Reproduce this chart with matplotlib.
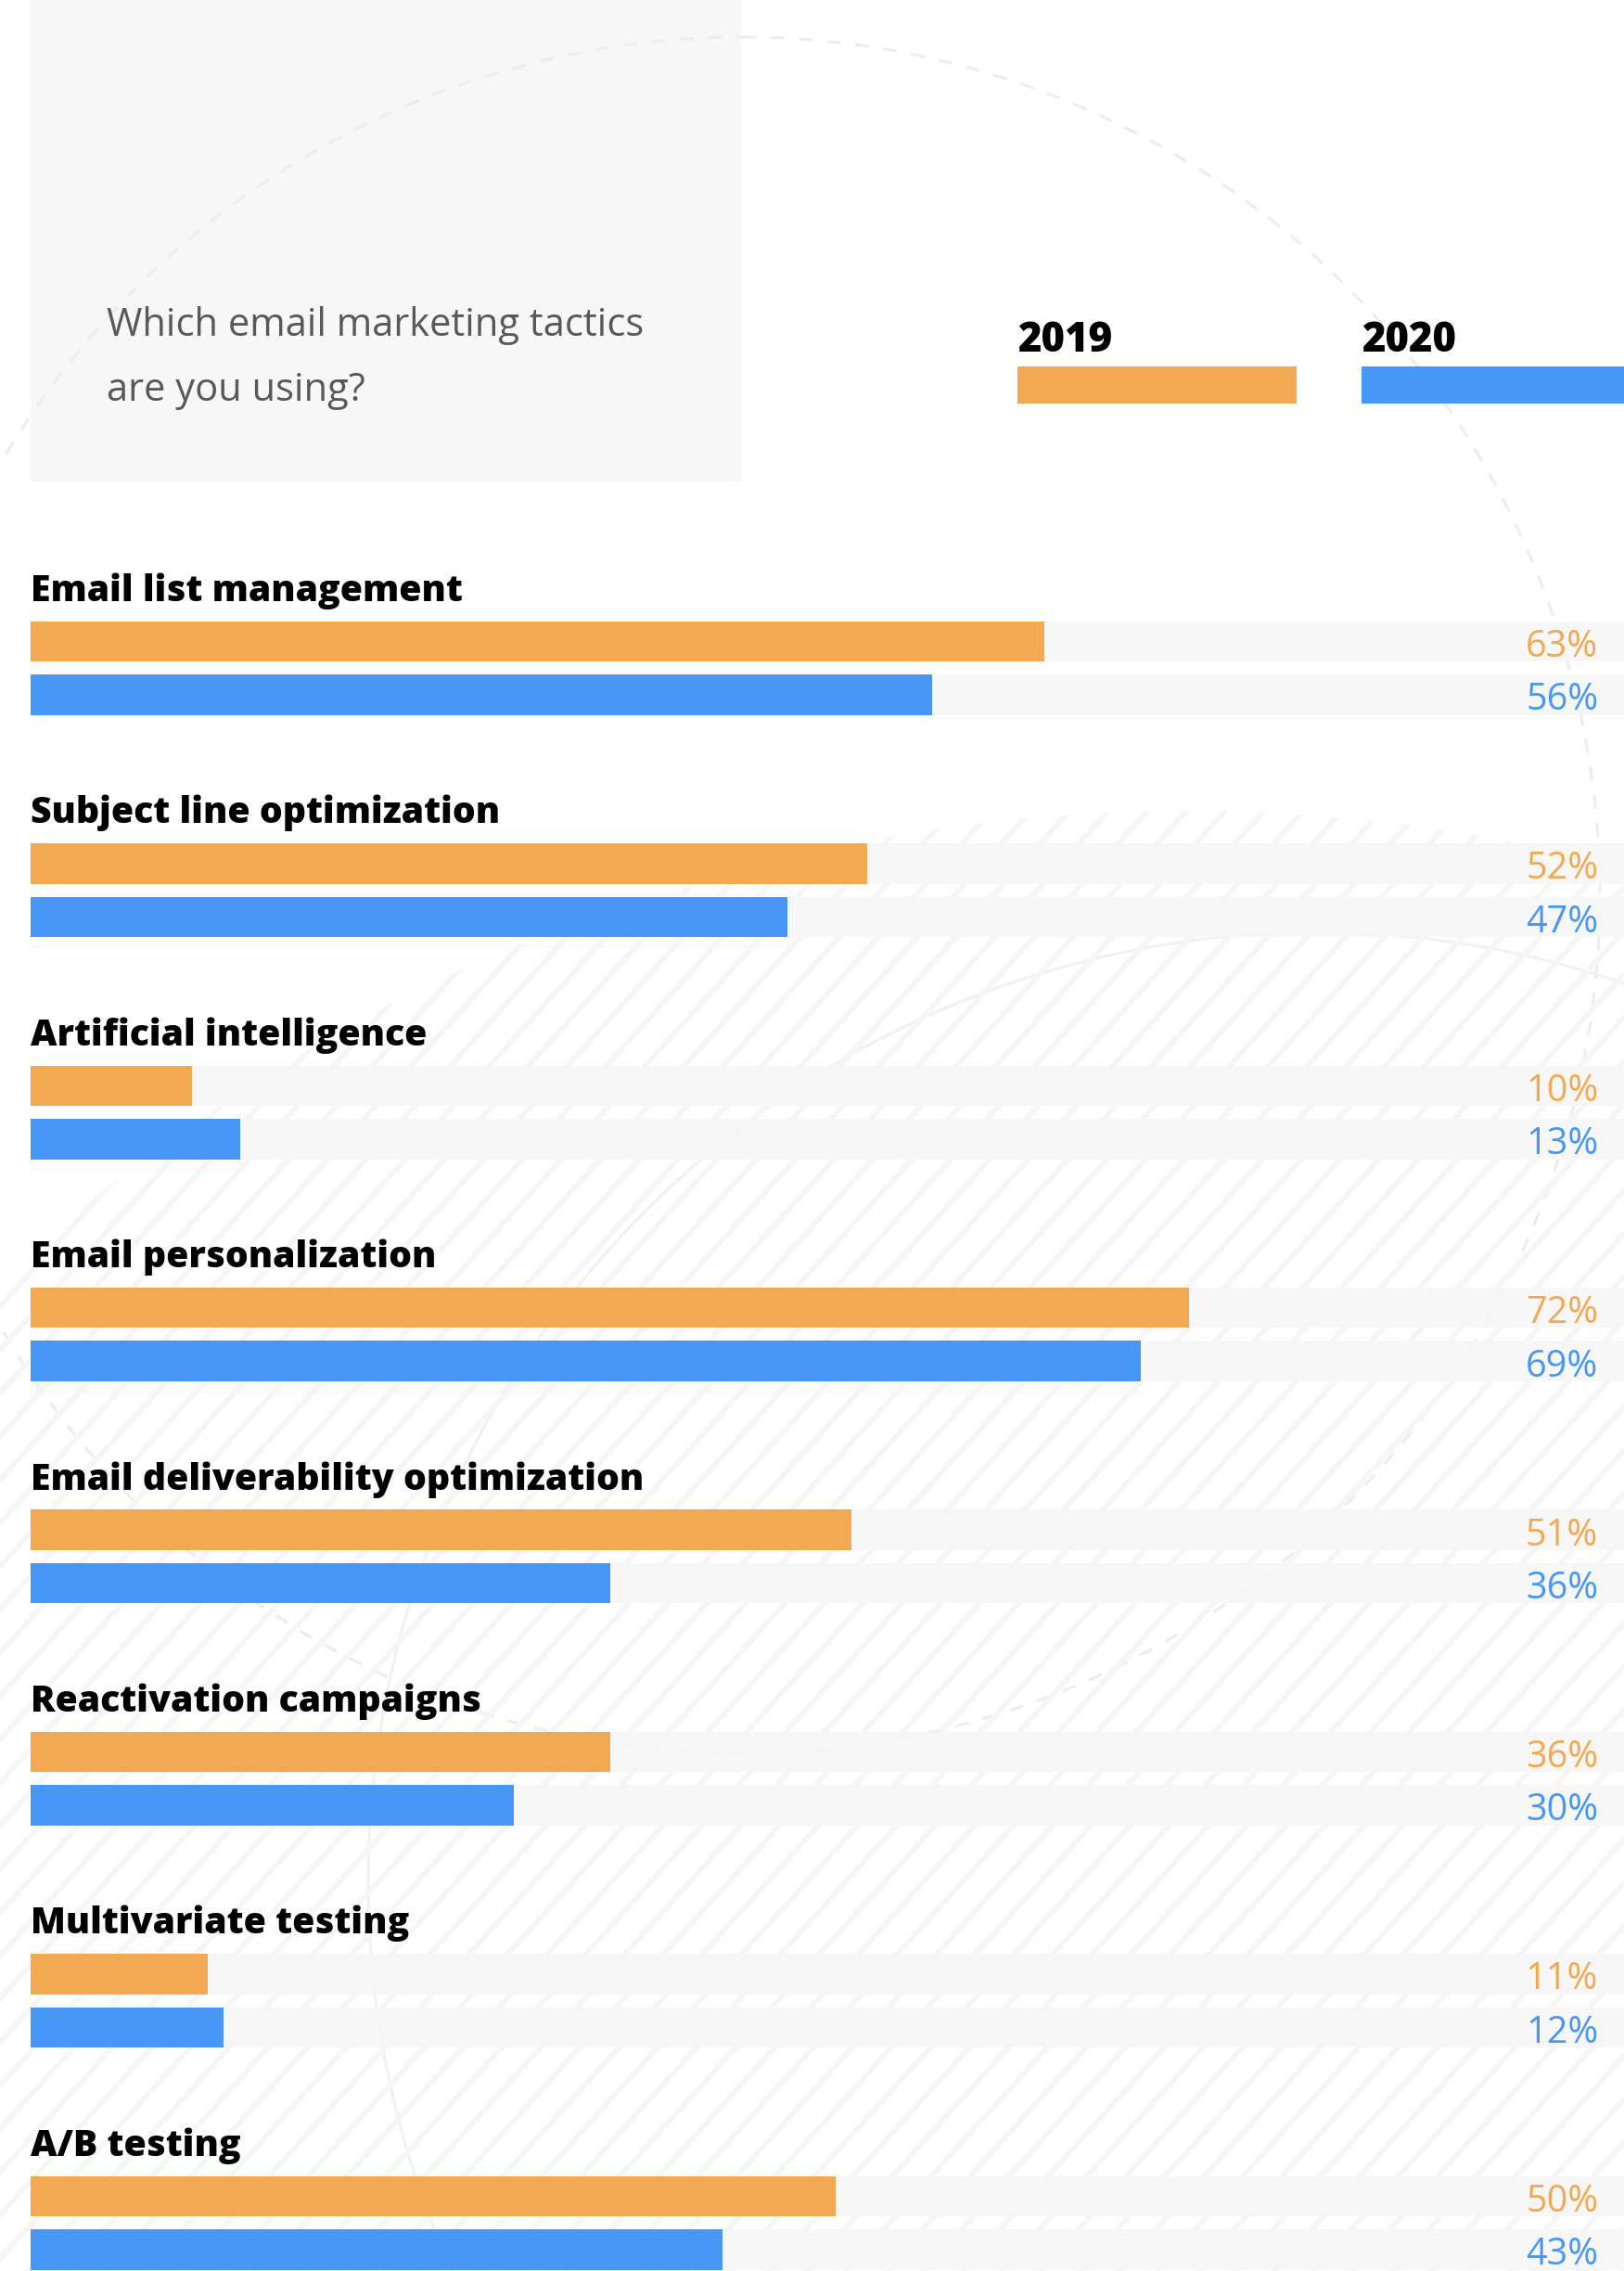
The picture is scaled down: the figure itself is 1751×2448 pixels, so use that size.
import numpy as np
import matplotlib
matplotlib.use("Agg")
import matplotlib.pyplot as plt
from matplotlib.patches import Rectangle, Circle
from matplotlib.collections import LineCollection

# survey answers, share of respondents (%)
tactics = ['Email list management', 'Subject line optimization', 'Artificial intelligence',
           'Email personalization', 'Email deliverability optimization', 'Reactivation campaigns',
           'Multivariate testing', 'A/B testing']
share_2019 = [63, 52, 10, 72, 51, 36, 11, 50]
share_2020 = [56, 47, 13, 69, 36, 30, 12, 43]
years = ['2019', '2020']
question = ['Which email marketing tactics', 'are you using?']

orange = '#F3A951'
blue = '#4896F5'
track = '#F6F6F6'

plt.rcParams['font.family'] = ['Open Sans', 'DejaVu Sans']

W, H = 1751, 2448
fig = plt.figure(figsize=(W / 100, H / 100), dpi=100)
fig.patch.set_facecolor('white')

# background layer in pixel units
bg = fig.add_axes([0, 0, 1, 1], zorder=0)
bg.set_xlim(0, W)
bg.set_ylim(H, 0)
bg.axis('off')

# hatched disc in the lower part
disc = Circle((1279, 2742), 1868, transform=bg.transData, facecolor='none', edgecolor='none')
bg.add_patch(disc)
offsets = np.arange(-3000, 2600, 42)
segs = [[(x0, H + 100), (x0 + 2700 / np.tan(np.radians(48)), H + 100 - 2700)] for x0 in offsets]
hatch = LineCollection(segs, colors='#F6F6F6', linewidths=4.3)
bg.add_collection(hatch)
hatch.set_clip_path(disc)

# question panel
bg.add_patch(Rectangle((33, 0), 766, 519, facecolor='#F7F7F7', edgecolor='none'))

# decorative outlines
bg.add_patch(Circle((800, 965), 925, fill=False, edgecolor='#EDEDED', lw=2.2, linestyle=(0, (5, 5))))
bg.add_patch(Circle((1420, 2028), 1023, fill=False, edgecolor='#F1F1F1', lw=2.2))

for k, line in enumerate(question):
    bg.text(115, 351 + 70 * k, line, fontsize=30, color='#58595B', va='center', ha='left')

# year key
key_x = [1097, 1468]
key_w = [301, 300]
for yr, kx, kw, col in zip(years, key_x, key_w, [orange, blue]):
    bg.text(kx, 379, yr, fontsize=31.5, fontweight=800, color='black', va='baseline', ha='left')
    bg.add_patch(Rectangle((kx, 395), kw, 40, facecolor=col, edgecolor='none'))

# bars
ax = fig.add_axes([33 / W, 0, 1 - 33 / W, 1], zorder=1)
ax.patch.set_alpha(0)
ax.set_xlim(0, 99.0)
ax.set_ylim(7.337, -2.8885)
ax.axis('off')

y = np.arange(len(tactics))
gap = 0.240
bh = 0.1817

ax.barh(y, 100, height=bh, color=track, alpha=0.85, zorder=1)
ax.barh(y + gap, 100, height=bh, color=track, alpha=0.85, zorder=1)
ax.barh(y, share_2019, height=bh, color=orange, zorder=2)
ax.barh(y + gap, share_2020, height=bh, color=blue, zorder=2)

for i, name in enumerate(tactics):
    ax.text(0, y[i] - 0.1817, name, fontsize=28.3, fontweight=800, color='black',
            va='baseline', ha='left')
    ax.text(97.4, y[i] + 0.069, f'{share_2019[i]}%', fontsize=28.5, color=orange,
            va='baseline', ha='right')
    ax.text(97.4, y[i] + gap + 0.069, f'{share_2020[i]}%', fontsize=28.5, color=blue,
            va='baseline', ha='right')

fig.savefig('out.png', dpi=100, facecolor='white')
